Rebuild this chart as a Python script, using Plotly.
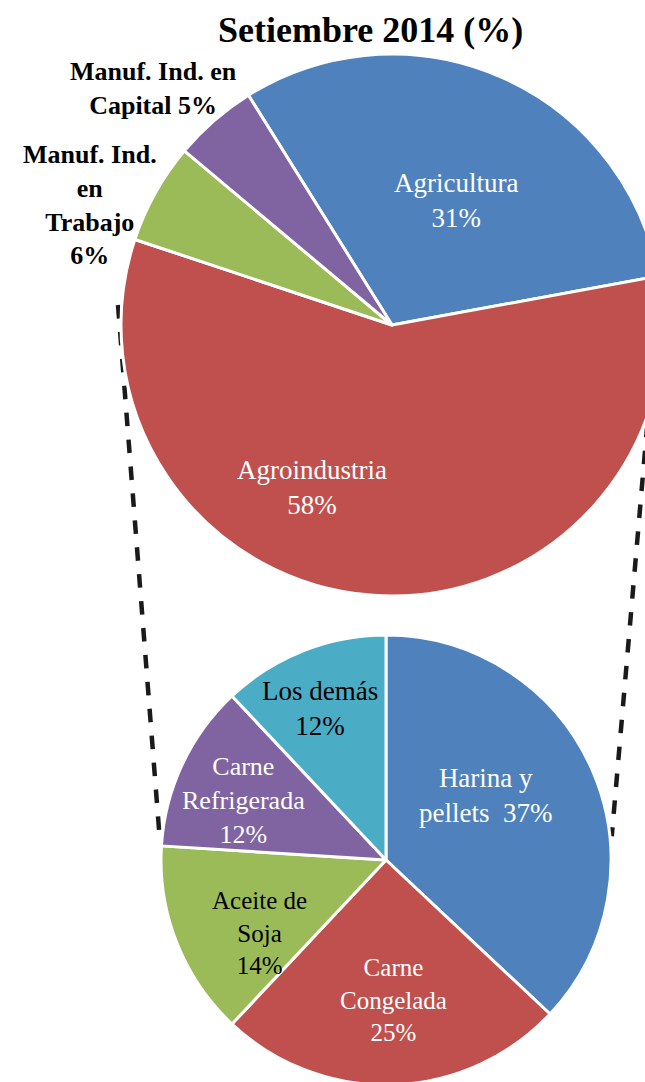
import math
import plotly.graph_objects as go

# ---------------- data ----------------
title_text = "Setiembre 2014 (%)"

top_labels = ["Agricultura", "Agroindustria", "Manuf. Ind. en Trabajo", "Manuf. Ind. en Capital"]
top_values = [31, 58, 6, 5]
top_colors = ["#4F81BD", "#C0504D", "#9BBB59", "#8064A2"]

bottom_labels = ["Harina y pellets", "Carne Congelada", "Aceite de Soja", "Carne Refrigerada", "Los demás"]
bottom_values = [37, 25, 14, 12, 12]
bottom_colors = ["#4F81BD", "#C0504D", "#9BBB59", "#8064A2", "#4BACC6"]

# ---------------- layout geometry (pixels) ----------------
W, H = 672, 1092
TOP_C, TOP_R = (392, 325), 271
BOT_C, BOT_R = (386, 860), 225


def px_to_paper(x, y):
    return x / W, 1 - y / H


def domain_for(center, r):
    cx, cy = center
    return dict(x=[(cx - r) / W, (cx + r) / W], y=[1 - (cy + r) / H, 1 - (cy - r) / H])


fig = go.Figure()

fig.add_trace(go.Pie(
    labels=top_labels, values=top_values, sort=False, direction="clockwise",
    rotation=-32, marker=dict(colors=top_colors, line=dict(color="white", width=3)),
    textinfo="none", hoverinfo="label+percent", showlegend=False,
    domain=domain_for(TOP_C, TOP_R),
))

fig.add_trace(go.Pie(
    labels=bottom_labels, values=bottom_values, sort=False, direction="clockwise",
    rotation=0, marker=dict(colors=bottom_colors, line=dict(color="white", width=3)),
    textinfo="none", hoverinfo="label+percent", showlegend=False,
    domain=domain_for(BOT_C, BOT_R),
))

# connector lines (dashed), from the top pie to the bottom pie
def on_circle(center, r, ang_deg):
    a = math.radians(ang_deg)
    return center[0] + r * math.sin(a), center[1] - r * math.cos(a)

left_top = (118, 305)
left_bot = on_circle(BOT_C, BOT_R + 2, 275)
right_top = (652, 370)
right_bot = on_circle(BOT_C, BOT_R + 2, 84)

shapes = []
for (x0, y0), (x1, y1) in [(left_top, left_bot), (right_top, right_bot)]:
    px0, py0 = px_to_paper(x0, y0)
    px1, py1 = px_to_paper(x1, y1)
    shapes.append(dict(type="line", xref="paper", yref="paper", x0=px0, y0=py0, x1=px1, y1=py1,
                       line=dict(color="#1a1a1a", width=4.5, dash="dash"), layer="below"))

SERIF = "Liberation Serif, Times New Roman, serif"

annos = []
def add_label(text, x, y, color, size=24, bold=False):
    px, py = px_to_paper(x, y)
    if bold:
        text = "<b>" + text + "</b>"
    annos.append(dict(text=text, x=px, y=py, xref="paper", yref="paper", showarrow=False,
                      xanchor="center", yanchor="middle", align="center",
                      font=dict(family=SERIF, size=size, color=color)))

# top pie labels
add_label(f"{top_labels[0]}<br>{top_values[0]}%", 456, 200, "white", 27)
add_label(f"{top_labels[1]}<br>{top_values[1]}%", 312, 488, "white", 27)
add_label(f"Manuf. Ind. en<br>Capital {top_values[3]}%", 153, 88, "black", 26, bold=True)
add_label(f"Manuf. Ind.<br>en<br>Trabajo<br>{top_values[2]}%", 90, 205, "black", 26, bold=True)

# bottom pie labels
add_label(f"Harina y<br>pellets  {bottom_values[0]}%", 485, 795, "white", 27)
add_label(f"Carne<br>Congelada<br>{bottom_values[1]}%", 393, 1000, "white", 25)
add_label(f"Aceite de<br>Soja<br>{bottom_values[2]}%", 259, 933, "black", 25)
add_label(f"Carne<br>Refrigerada<br>{bottom_values[3]}%", 243, 801, "white", 26)
add_label(f"Los demás<br>{bottom_values[4]}%", 320, 708, "black", 27)

tx, ty = px_to_paper(370, 30)
annos.append(dict(text="<b>" + title_text + "</b>", x=tx, y=ty, xref="paper", yref="paper",
                  showarrow=False, xanchor="center", yanchor="middle",
                  font=dict(family=SERIF, size=36, color="black")))

fig.update_layout(
    width=W, height=H, margin=dict(l=0, r=0, t=0, b=0),
    paper_bgcolor="white", plot_bgcolor="white",
    shapes=shapes, annotations=annos, showlegend=False,
)

fig.write_html("out.html", config={"displayModeBar": False},
               post_script="document.body.style.margin='0';document.body.style.overflow='hidden';")
